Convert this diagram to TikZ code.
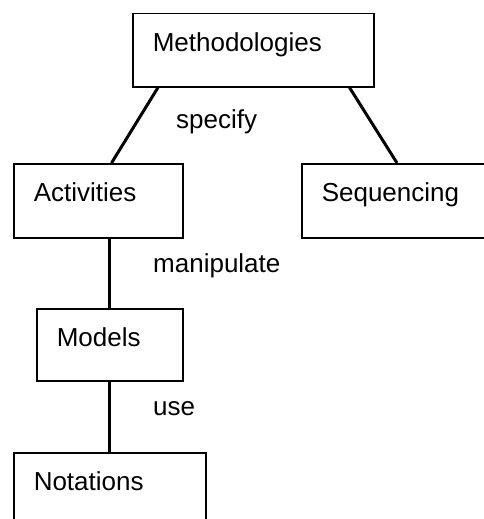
\documentclass[tikz,border=0pt]{standalone}
\usepackage{fontspec}
\setmainfont{Liberation Sans}
\usetikzlibrary{positioning}

\begin{document}
\begin{tikzpicture}[x=1pt,y=-1pt,font=\fontsize{26}{31}\selectfont,
  concept/.style={draw,line width=1.5pt,anchor=north west,inner xsep=20pt,inner ysep=0pt,align=left,text height=38pt},
  link/.style={line width=3pt},
  lbl/.style={anchor=base west,inner sep=0pt}]
\useasboundingbox (0,0) rectangle (483,519);
\node[concept,text width=201pt,text depth=35pt] (meth) at (132,13) {Methodologies};
\node[concept,text width=129pt,text depth=36pt] (act) at (13,163) {Activities};
\node[concept,text width=143pt,text depth=36pt] (seq) at (301,163) {Sequencing};
\node[concept,text width=106pt,text depth=34pt] (mod) at (36,308) {Models};
\node[concept,text width=152pt,text depth=40pt] (nota) at (13,452) {Notations};
\draw[link] ([xshift=26pt]meth.south west)--([xshift=-72pt]act.north east);
\draw[link] ([xshift=-25pt]meth.south east)--([xshift=96pt]seq.north west);
\draw[link] (mod.north |- act.south)--(mod.north);
\draw[link] (mod.south)--(mod.south |- nota.north);
\node[lbl] (specify) at (176,128) {specify};
\node[lbl] (manip) at (153,272) {manipulate};
\node[lbl] (use) at (153,415) {use};
\end{tikzpicture}
\end{document}
